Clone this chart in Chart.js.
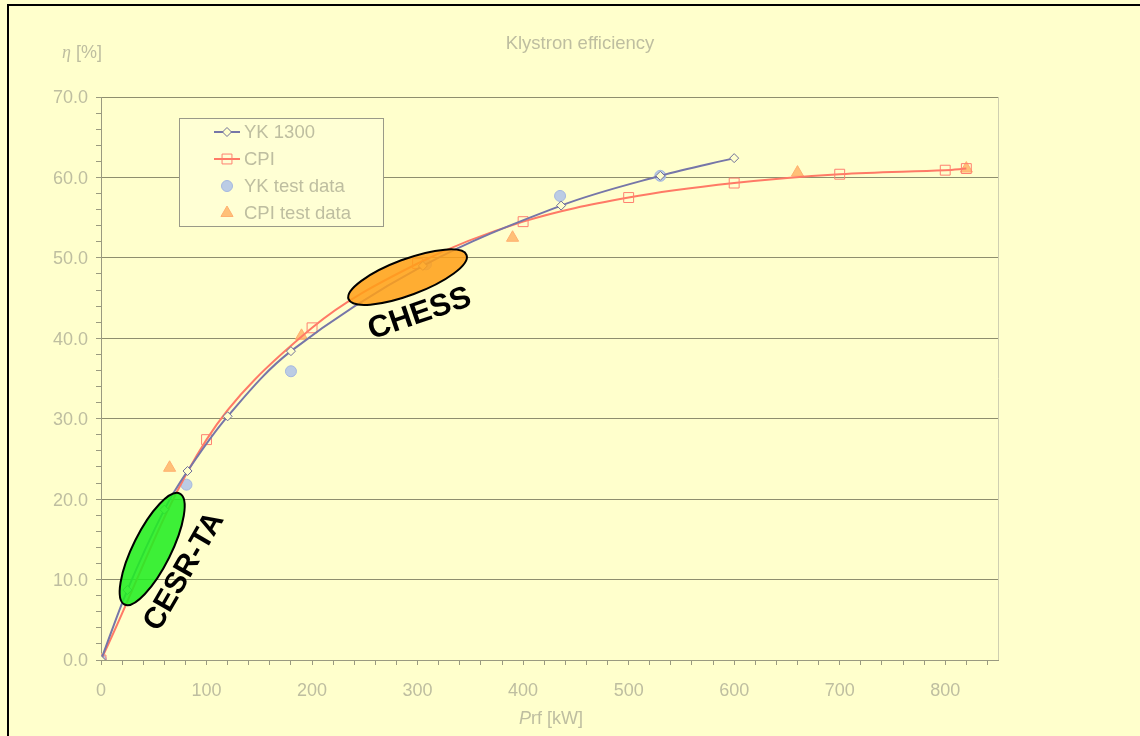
<!DOCTYPE html>
<html>
<head>
<meta charset="utf-8">
<title>Klystron efficiency</title>
<script src="https://cdn.jsdelivr.net/npm/chart.js@4.4.1/dist/chart.umd.min.js"></script>
<style>
  html, body { margin: 0; padding: 0; background: #FFFFCC; }
  #wrap { position: relative; width: 1140px; height: 736px; }
  canvas { display: block; }
</style>
</head>
<body>
<div id="wrap"><canvas id="c" width="1140" height="736"></canvas></div>
<script>
// Klystron efficiency versus RF output power
const yk1300X = [0, 25, 60, 82, 120, 180, 305, 436, 530, 600];
const yk1300Y = [0, 8.7, 18.7, 23.5, 30.3, 38.4, 49.0, 56.5, 60.2, 62.4];

const cpiX = [0, 100, 200, 300, 400, 500, 600, 700, 800, 820];
const cpiY = [0, 27.4, 41.3, 49.3, 54.5, 57.5, 59.3, 60.4, 60.9, 61.1];

const ykTestX = [0, 81, 180, 308, 435, 530];
const ykTestY = [0, 21.8, 35.9, 49.2, 57.7, 60.2];

const cpiTestX = [0, 65, 190, 390, 660, 820];
const cpiTestY = [0, 23.9, 40.3, 52.5, 60.6, 61.1];

const seriesNames = ['YK 1300', 'CPI', 'YK test data', 'CPI test data'];
const xTickValues = [0, 100, 200, 300, 400, 500, 600, 700, 800];
const yTickValues = [0, 10, 20, 30, 40, 50, 60, 70];

const pts = (xs, ys) => xs.map((x, i) => ({ x: x, y: ys[i] }));

const BG = '#FFFFCC';
const TEXT = '#BEBEA0';
const GRID = '#8E8E6E';
const AXIS = '#9A9A80';
const FONT = '"Liberation Sans", Arial, sans-serif';

// highlighted operating regions (centre in data units, radii in px)
const regions = [
  { label: 'CESR-TA', cx: 48.5, cy: 13.8, rx: 62, ry: 19, angle: -63.5,
    fill: 'rgba(34,238,34,0.88)', tx: 79, ty: 11.0, tAngle: -60, size: 30 },
  { label: 'CHESS', cx: 290.5, cy: 47.6, rx: 63, ry: 18, angle: -20.5,
    fill: 'rgba(255,160,24,0.86)', tx: 302, ty: 43.0, tAngle: -19, size: 31 }
];

const regionPlugin = {
  id: 'regions',
  afterDatasetsDraw(chart) {
    const { ctx, scales } = chart;
    ctx.save();
    regions.forEach(r => {
      const px = scales.x.getPixelForValue(r.cx);
      const py = scales.y.getPixelForValue(r.cy);
      ctx.beginPath();
      ctx.ellipse(px, py, r.rx, r.ry, r.angle * Math.PI / 180, 0, Math.PI * 2);
      ctx.fillStyle = r.fill;
      ctx.fill();
      ctx.lineWidth = 2;
      ctx.strokeStyle = '#000';
      ctx.stroke();
    });
    regions.forEach(r => {
      const px = scales.x.getPixelForValue(r.tx);
      const py = scales.y.getPixelForValue(r.ty);
      ctx.save();
      ctx.translate(px, py);
      ctx.rotate(r.tAngle * Math.PI / 180);
      ctx.font = 'bold ' + r.size + 'px ' + FONT;
      ctx.fillStyle = '#000';
      ctx.textAlign = 'center';
      ctx.textBaseline = 'middle';
      ctx.fillText(r.label, 0, 0);
      ctx.restore();
    });
    ctx.restore();
  }
};

const framePlugin = {
  id: 'frame',
  beforeDraw(chart) {
    const { ctx } = chart;
    ctx.save();
    ctx.fillStyle = BG;
    ctx.fillRect(0, 0, chart.width, chart.height);
    ctx.restore();
  },
  afterDraw(chart) {
    const { ctx, chartArea: a } = chart;
    ctx.save();
    // outer frame
    ctx.strokeStyle = '#000';
    ctx.lineWidth = 2;
    ctx.beginPath();
    ctx.moveTo(8, chart.height + 2);
    ctx.lineTo(8, 5);
    ctx.lineTo(chart.width + 2, 5);
    ctx.stroke();
    // right edge of plot area
    ctx.strokeStyle = '#CFCFB0';
    ctx.lineWidth = 1;
    ctx.beginPath();
    ctx.moveTo(Math.round(a.right) + 0.5, a.top);
    ctx.lineTo(Math.round(a.right) + 0.5, a.bottom);
    ctx.stroke();

    // titles
    ctx.fillStyle = TEXT;
    ctx.textBaseline = 'middle';
    ctx.textAlign = 'center';
    ctx.font = '18.5px ' + FONT;
    ctx.fillText('Klystron efficiency', 580, 44);

    ctx.textAlign = 'left';
    ctx.font = 'italic 18px "Liberation Serif", serif';
    ctx.fillText('\u03B7', 62, 53);
    ctx.font = '18px ' + FONT;
    ctx.fillText(' [%]', 71, 53);

    ctx.font = 'italic 18px ' + FONT;
    const pW = ctx.measureText('P').width;
    ctx.font = '18px ' + FONT;
    const restW = ctx.measureText('rf [kW]').width;
    const x0 = 551 - (pW + restW) / 2;
    ctx.font = 'italic 18px ' + FONT;
    ctx.fillText('P', x0, 719);
    ctx.font = '18px ' + FONT;
    ctx.fillText('rf [kW]', x0 + pW, 719);

    // legend box
    const lx = 179.5, ly = 118.5, lw = 204, lh = 108;
    ctx.fillStyle = '#FFFFD4';
    ctx.fillRect(lx, ly, lw, lh);
    ctx.strokeStyle = '#9A9A88';
    ctx.lineWidth = 1;
    ctx.strokeRect(lx, ly, lw, lh);
    const rows = [132, 159, 186, 213];
    chart.data.datasets.forEach((ds, i) => {
      const y = rows[i];
      if (ds.showLine !== false) {
        ctx.strokeStyle = ds.borderColor;
        ctx.lineWidth = 2;
        ctx.beginPath();
        ctx.moveTo(214, y);
        ctx.lineTo(240, y);
        ctx.stroke();
      }
      ctx.fillStyle = ds.pointBackgroundColor;
      ctx.strokeStyle = ds.pointBorderColor;
      ctx.lineWidth = ds.pointBorderWidth;
      Chart.helpers.drawPoint(ctx, {
        pointStyle: ds.pointStyle,
        radius: ds.pointRadius,
        borderWidth: ds.pointBorderWidth,
        rotation: 0
      }, 227, y);
      ctx.fillStyle = TEXT;
      ctx.font = '18.5px ' + FONT;
      ctx.textAlign = 'left';
      ctx.fillText(ds.label, 244, y + 1);
    });
    ctx.restore();
  }
};

new Chart(document.getElementById('c'), {
  type: 'line',
  data: {
    datasets: [
      {
        label: seriesNames[0], data: pts(yk1300X, yk1300Y),
        borderColor: '#7676A8', borderWidth: 2, tension: 0.35,
        pointStyle: 'rectRot', pointRadius: 4.5,
        pointBackgroundColor: BG, pointBorderColor: '#70709A', pointBorderWidth: 1
      },
      {
        label: seriesNames[1], data: pts(cpiX, cpiY),
        borderColor: '#FF7A66', borderWidth: 2, tension: 0.35,
        pointStyle: 'rect', pointRadius: 7,
        pointBackgroundColor: 'rgba(255,255,204,0)', pointBorderColor: '#FF8070', pointBorderWidth: 1
      },
      {
        label: seriesNames[2], data: pts(ykTestX, ykTestY), showLine: false,
        borderColor: '#9FB2DD',
        pointStyle: 'circle', pointRadius: 5.5,
        pointBackgroundColor: 'rgba(175,195,232,0.85)', pointBorderColor: '#A5B8E0', pointBorderWidth: 1
      },
      {
        label: seriesNames[3], data: pts(cpiTestX, cpiTestY), showLine: false,
        borderColor: '#FFAA66',
        pointStyle: 'triangle', pointRadius: 7,
        pointBackgroundColor: 'rgba(255,185,110,0.9)', pointBorderColor: '#FFB070', pointBorderWidth: 1
      }
    ]
  },
  options: {
    responsive: false,
    animation: false,
    layout: { padding: { left: 0, right: 142, top: 97, bottom: 0 } },
    plugins: { legend: { display: false }, title: { display: false }, tooltip: { enabled: false } },
    scales: {
      x: {
        type: 'linear', min: 0, max: 850,
        border: { display: true, color: AXIS, width: 1 },
        grid: { drawOnChartArea: false, tickLength: 5, tickColor: AXIS },
        ticks: {
          stepSize: 20, autoSkip: false, includeBounds: false, maxRotation: 0,
          padding: 15, color: TEXT, font: { family: FONT, size: 18 },
          callback: v => xTickValues.includes(v) ? String(v) : ''
        },
        afterFit: s => { s.height = 76; }
      },
      y: {
        type: 'linear', min: 0, max: 70,
        border: { display: true, color: AXIS, width: 1 },
        grid: {
          tickLength: 5, tickColor: AXIS,
          color: c => (c.tick && yTickValues.includes(c.tick.value) && c.tick.value > 0) ? GRID : 'rgba(0,0,0,0)'
        },
        ticks: {
          stepSize: 2, autoSkip: false, includeBounds: false,
          padding: 8, labelOffset: 1.5, color: TEXT, font: { family: FONT, size: 18 },
          callback: v => yTickValues.includes(v) ? v.toFixed(1) : ''
        },
        afterFit: s => { s.width = 101; }
      }
    }
  },
  plugins: [framePlugin, regionPlugin]
});
</script>
</body>
</html>
